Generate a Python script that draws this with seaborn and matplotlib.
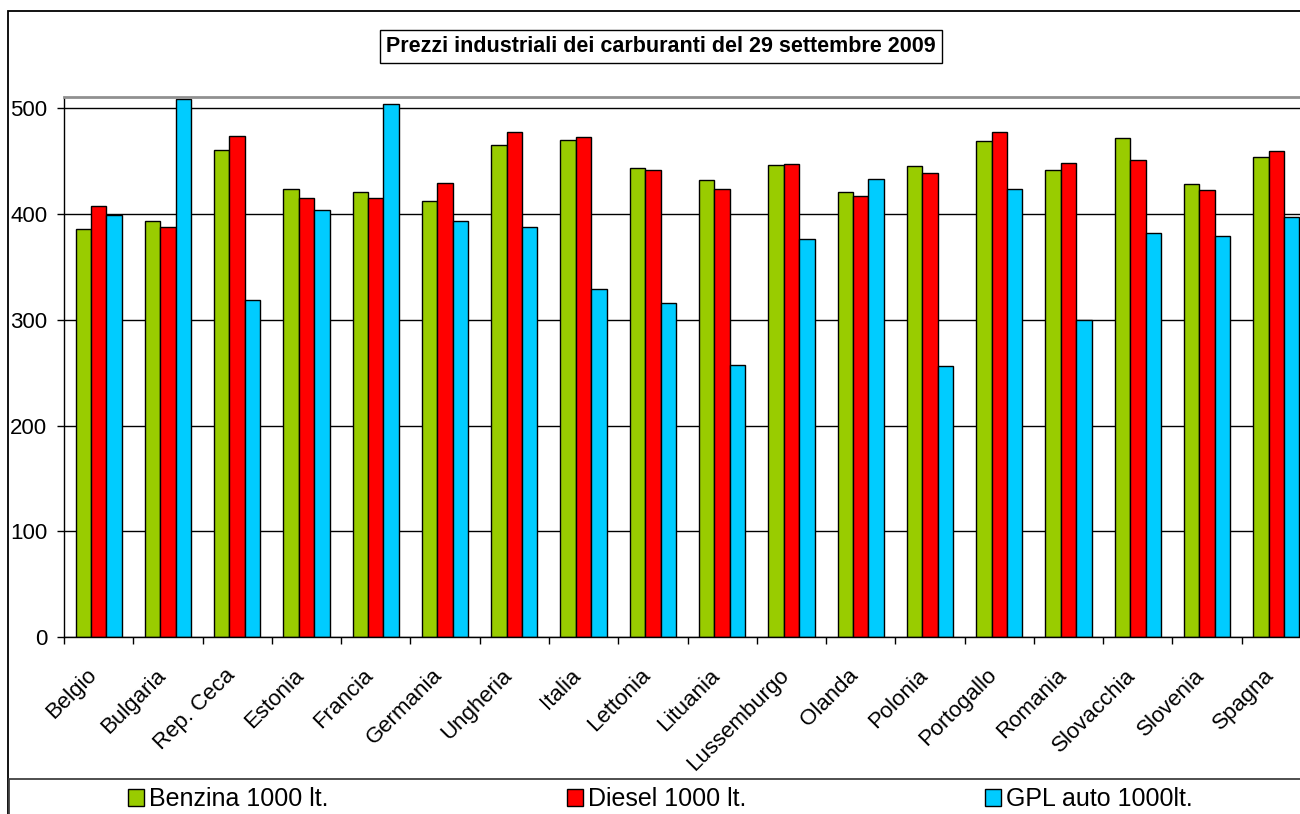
import matplotlib
matplotlib.use("Agg")
import numpy as np
import pandas as pd
import matplotlib.pyplot as plt
import matplotlib.transforms as mtransforms
import seaborn as sns
from matplotlib.patches import Rectangle, Patch

# valori (euro / 1000 litri)
countries = ["Belgio", "Bulgaria", "Rep. Ceca", "Estonia", "Francia", "Germania",
             "Ungheria", "Italia", "Lettonia", "Lituania", "Lussemburgo", "Olanda",
             "Polonia", "Portogallo", "Romania", "Slovacchia", "Slovenia", "Spagna"]
benzina = [386, 393, 461, 424, 421, 412, 465, 470, 444, 432, 446, 421, 445, 469, 442, 472, 428, 454]
diesel = [408, 388, 474, 415, 415, 429, 478, 473, 442, 424, 447, 417, 439, 478, 448, 451, 423, 460]
gpl = [399, 509, 319, 404, 504, 393, 388, 329, 316, 257, 376, 433, 256, 424, 300, 382, 379, 397]
series_names = ["Benzina 1000 lt.", "Diesel 1000 lt.", "GPL auto 1000lt."]
colors = ["#99CC00", "#FF0000", "#00CCFF"]
yticks = [0, 100, 200, 300, 400, 500]
title = "Prezzi industriali dei carburanti del 29 settembre 2009"

W, H = 1300, 814

sns.set_style("white")
plt.rcParams["font.family"] = ["Liberation Sans", "DejaVu Sans"]
plt.rcParams["text.color"] = "black"
plt.rcParams["xtick.color"] = "black"
plt.rcParams["ytick.color"] = "black"

df = pd.DataFrame({
    "Paese": countries * 3,
    "Carburante": np.repeat(series_names, len(countries)),
    "Prezzo": benzina + diesel + gpl,
})

fig = plt.figure(figsize=(W / 100, H / 100), dpi=100)
fig.patch.set_facecolor("white")

# area del grafico (esce a destra oltre il bordo, come nell'originale)
ax = fig.add_axes([64 / W, 1 - 637 / H, 1247 / W, 540.3 / H])
sns.barplot(data=df, x="Paese", y="Prezzo", hue="Carburante", palette=colors,
            width=0.667, edgecolor="black", linewidth=1, saturation=1,
            legend=False, ax=ax)

ax.set_xlim(-0.5, len(countries) - 0.5)
ax.set_ylim(0, 511)
ax.set_xlabel("")
ax.set_ylabel("")
ax.set_axisbelow(True)
ax.grid(axis="y", color="black", linewidth=1)
ax.grid(axis="x", visible=False)

ax.set_yticks(yticks)
ax.set_yticklabels([str(v) for v in yticks])
ax.tick_params(axis="y", left=True, length=5, width=1, labelsize=16, pad=7)

ax.set_xticks(range(len(countries)))
ax.set_xticklabels(countries, rotation=45, ha="right", rotation_mode="anchor")
ax.set_xticks(np.arange(-0.5, len(countries), 1), minor=True)
ax.tick_params(axis="x", which="major", length=0, labelsize=16, pad=20)
ax.tick_params(axis="x", which="minor", bottom=True, length=5, width=1)
shift = mtransforms.ScaledTranslation(-13 / 100, 0, fig.dpi_scale_trans)
for lab in ax.get_xticklabels():
    lab.set_transform(lab.get_transform() + shift)

for side in ["left", "bottom"]:
    ax.spines[side].set_color("black")
    ax.spines[side].set_linewidth(1)
ax.spines["top"].set_color("#909090")
ax.spines["top"].set_linewidth(2)
ax.spines["right"].set_visible(False)

# cornice esterna e riquadro legenda
fig.add_artist(Rectangle((8 / W, -0.2), 1.5, 0.2 + 1 - 11 / H, transform=fig.transFigure,
                         fill=False, edgecolor="black", linewidth=1.3))
fig.add_artist(Rectangle((9 / W, -0.2), 1.5, 0.2 + 1 - 779 / H, transform=fig.transFigure,
                         fill=False, edgecolor="#404040", linewidth=1.3))

fig.text(661 / W, 1 - 46.5 / H, title, ha="center", va="center", fontsize=15.5,
         fontweight="bold",
         bbox=dict(boxstyle="square,pad=0.3", facecolor="white", edgecolor="black", linewidth=1))

# legenda: tre voci distribuite sulla larghezza
for name, color, x in zip(series_names, colors, [128, 567, 985]):
    handle = Patch(facecolor=color, edgecolor="black", linewidth=1)
    fig.legend([handle], [name], loc="center left", bbox_to_anchor=(x / W, 1 - 799 / H),
               frameon=False, fontsize=18, handlelength=0.65, handleheight=0.65,
               handletextpad=0.2, borderpad=0, borderaxespad=0)

fig.savefig("out.png", dpi=100, facecolor="white")
